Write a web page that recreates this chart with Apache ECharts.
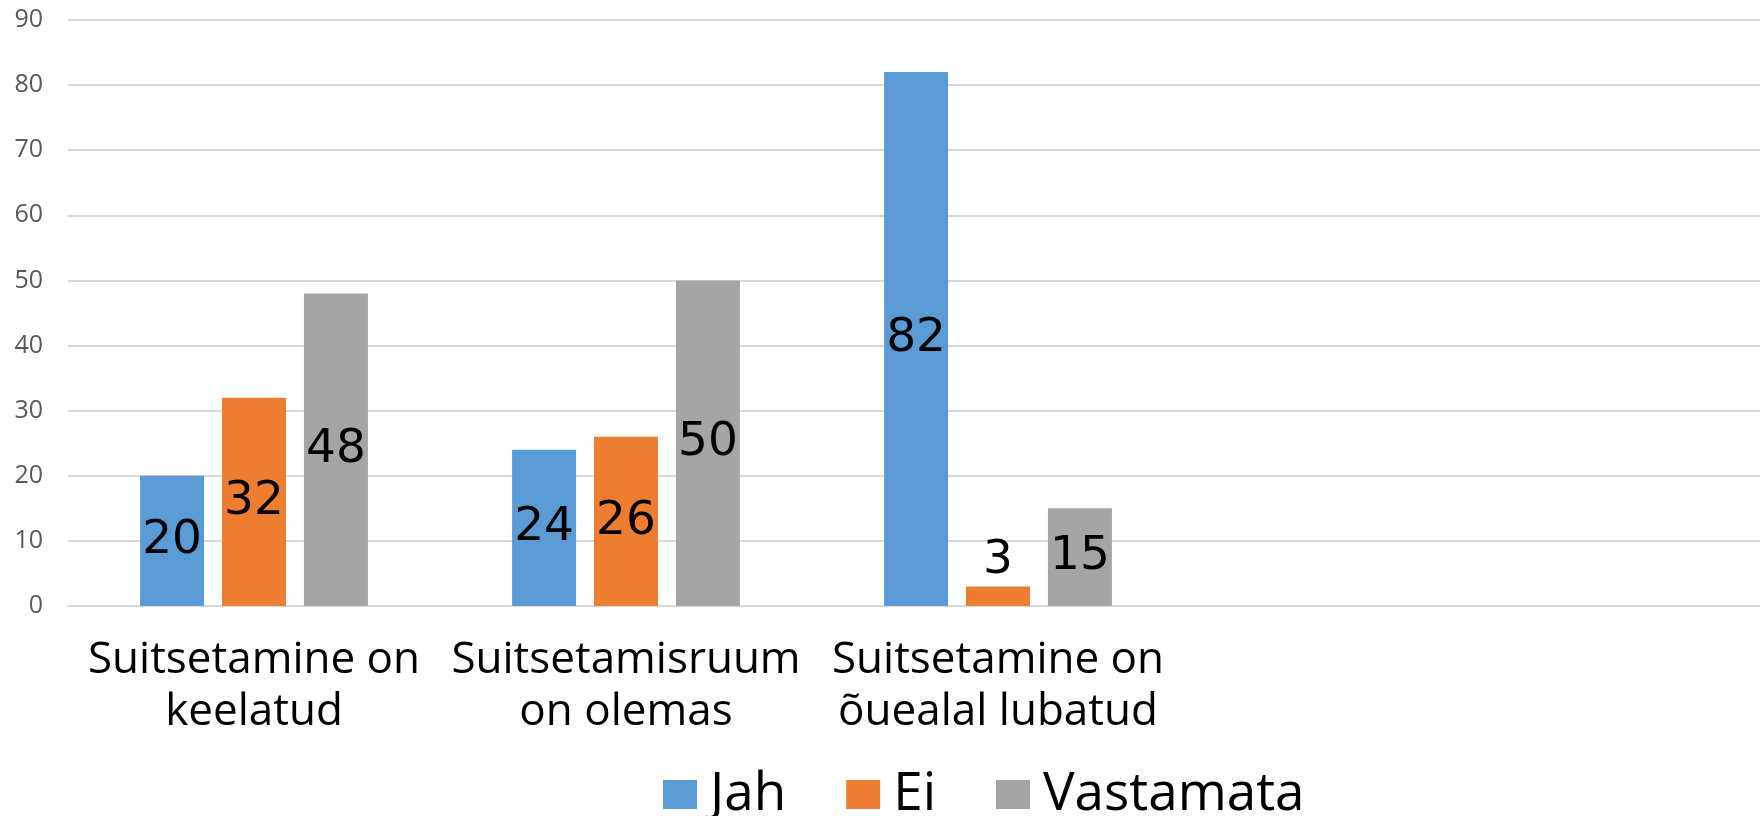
<!DOCTYPE html>
<html>
<head>
<meta charset="utf-8">
<script src="https://cdn.jsdelivr.net/npm/echarts@6/dist/echarts.min.js"></script>
<style>
    html, body { margin: 0; padding: 0; background: #fff; }
    #chart { width: 1760px; height: 816px; }
</style>
</head>
<body>
<div id="chart"></div>
<script>
// kategooriad (kaks tühja lõpus, joonis on paremalt ära lõigatud)
const categories = ['Suitsetamine on\nkeelatud', 'Suitsetamisruum\non olemas', 'Suitsetamine on\nõuealal lubatud', '', ''];
const jah = [20, 24, 82];
const ei = [32, 26, 3];
const vastamata = [48, 50, 15];
const seriesNames = ['Jah', 'Ei', 'Vastamata'];
const colors = ['#5B9BD5', '#ED7D31', '#A5A5A5'];

const chart = echarts.init(document.getElementById('chart'));

const toData = (arr) => arr.map(v => (
    v < 10 ? { value: v, label: { position: 'top', distance: 2 } } : v
));

const makeSeries = (name, arr, i) => ({
    name: name,
    type: 'bar',
    data: toData(arr),
    barWidth: 64,
    barGap: '28%',
    itemStyle: { color: colors[i] },
    label: {
        show: true,
        position: 'inside',
        color: '#000',
        fontFamily: 'DejaVu Sans',
        fontSize: 47
    }
});

const option = {
    animation: false,
    color: colors,
    grid: {
        left: 68,
        top: 20,
        width: 1860,
        bottom: 210,
        outerBoundsMode: 'none',
        containLabel: false
    },
    legend: {
        left: 658,
        top: 763,
        icon: 'rect',
        itemWidth: 34,
        itemHeight: 29,
        itemGap: 60,
        textStyle: {
            fontFamily: 'Open Sans',
            fontSize: 53,
            color: '#000',
            padding: [0, 0, 0, 8]
        },
        data: seriesNames
    },
    xAxis: {
        type: 'category',
        data: categories,
        axisTick: { show: false },
        axisLine: { lineStyle: { color: '#d9d9d9', width: 2 } },
        axisLabel: {
            interval: 0,
            margin: 28,
            fontFamily: 'Open Sans',
            fontSize: 44,
            lineHeight: 52,
            color: '#000'
        }
    },
    yAxis: {
        type: 'value',
        min: 0,
        max: 90,
        interval: 10,
        axisLine: { show: false },
        axisTick: { show: false },
        splitLine: { lineStyle: { color: '#d9d9d9', width: 2 } },
        axisLabel: {
            margin: 25,
            fontFamily: 'Open Sans',
            fontSize: 25,
            color: '#595959'
        }
    },
    series: [
        makeSeries('Jah', jah, 0),
        makeSeries('Ei', ei, 1),
        makeSeries('Vastamata', vastamata, 2)
    ]
};

chart.setOption(option);
</script>
</body>
</html>
